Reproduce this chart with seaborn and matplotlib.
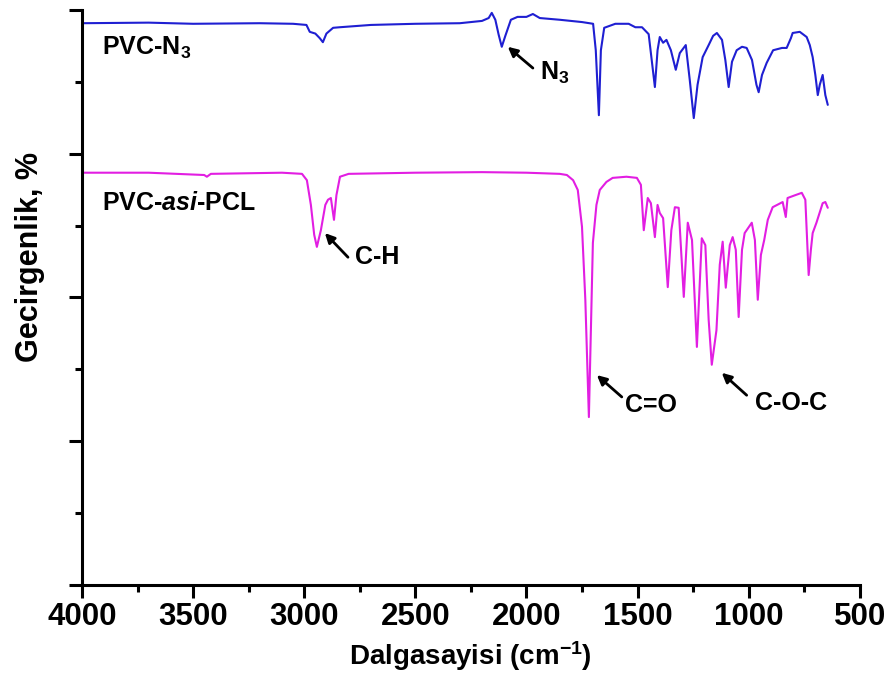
import numpy as np
import pandas as pd
import seaborn as sns
from matplotlib import pyplot as plt
from matplotlib.ticker import MultipleLocator, NullFormatter

# PVC-N3 spectrum (wavenumber, transmittance)
wn_n3 = [4000, 3700, 3500, 3200, 3050, 2990, 2975, 2950, 2930, 2916, 2900, 2870, 2840,
         2700, 2500, 2300, 2200, 2170, 2156, 2140, 2125, 2111, 2095, 2070, 2040, 2000,
         1971, 1940, 1850, 1750, 1700, 1688, 1674, 1665, 1650, 1600, 1540, 1510, 1480,
         1450, 1422, 1410, 1400, 1385, 1370, 1350, 1328, 1310, 1283, 1265, 1247, 1230,
         1207, 1180, 1160, 1143, 1120, 1105, 1090, 1075, 1054, 1030, 1009, 985, 965, 955,
         940, 919, 890, 850, 829, 810, 802, 770, 739, 725, 712, 700, 689, 680, 667, 655, 644]
t_n3 = [97.7, 97.8, 97.6, 97.7, 97.6, 97.4, 96.2, 95.9, 95.1, 94.4, 95.9, 96.9, 97.0,
        97.4, 97.6, 97.7, 98.1, 98.6, 99.5, 98.3, 95.7, 93.6, 95.5, 98.3, 98.8, 98.8,
        99.3, 98.6, 98.3, 97.9, 97.6, 93.0, 81.7, 93.0, 96.9, 97.6, 97.6, 97.0, 97.0,
        95.8, 86.6, 93.0, 95.3, 94.3, 94.8, 93.0, 89.6, 92.5, 93.9, 87.8, 81.2, 87.0,
        91.8, 93.9, 95.5, 96.0, 94.8, 91.3, 86.6, 91.0, 93.0, 93.6, 93.4, 91.3, 87.0, 85.7,
        88.7, 90.8, 93.0, 93.4, 93.4, 95.1, 96.0, 96.2, 95.3, 93.9, 91.8, 88.7, 85.2, 87.0,
        88.7, 85.2, 83.5]

# PVC-asi-PCL spectrum
wn_pcl = [4000, 3700, 3450, 3438, 3420, 3100, 3010, 2988, 2970, 2955, 2943, 2925, 2905,
          2893, 2880, 2866, 2855, 2839, 2800, 2500, 2200, 2000, 1850, 1818, 1790, 1769,
          1750, 1735, 1719, 1710, 1701, 1685, 1670, 1640, 1612, 1550, 1503, 1485, 1472,
          1454, 1440, 1422, 1410, 1400, 1385, 1364, 1348, 1332, 1315, 1292, 1274, 1255,
          1233, 1211, 1195, 1180, 1166, 1145, 1130, 1117, 1103, 1085, 1072, 1058, 1045,
          1030, 1018, 986, 972, 959, 945, 930, 914, 892, 847, 833, 825, 790, 761, 745,
          730, 720, 712, 695, 667, 655, 644]
t_pcl = [71.7, 71.7, 71.3, 71.0, 71.5, 71.7, 71.5, 70.4, 66.1, 60.9, 58.8, 61.7, 66.1,
         67.0, 67.3, 63.5, 67.8, 71.0, 71.5, 71.7, 71.8, 71.7, 71.5, 71.3, 70.4, 68.7,
         62.3, 49.6, 29.2, 44.3, 59.5, 66.1, 68.7, 70.1, 70.8, 71.0, 70.8, 69.6, 61.7,
         67.3, 66.4, 60.5, 66.1, 64.7, 63.8, 51.8, 61.7, 65.7, 65.6, 50.1, 63.0, 60.0,
         41.4, 60.3, 59.1, 46.1, 38.3, 44.3, 55.7, 59.7, 51.7, 59.1, 60.5, 58.3, 46.6,
         58.3, 61.2, 63.0, 60.0, 49.6, 57.4, 60.0, 63.5, 65.7, 66.6, 64.0, 67.3, 67.8, 68.2,
         67.0, 53.9, 58.3, 61.2, 63.0, 66.4, 66.6, 65.6]

samples = ['PVC-N3', 'PVC-asi-PCL']
colors = ['#1f1fd2', '#e21ee2']

df = pd.concat([
    pd.DataFrame({'wn': wn_n3, 'T': t_n3, 'sample': samples[0]}),
    pd.DataFrame({'wn': wn_pcl, 'T': t_pcl, 'sample': samples[1]}),
], ignore_index=True)

sns.set_style('ticks')
plt.rcParams['font.family'] = ['Liberation Sans', 'DejaVu Sans']
plt.rcParams['font.weight'] = 'bold'
plt.rcParams['mathtext.fontset'] = 'custom'
plt.rcParams['mathtext.rm'] = 'Liberation Sans:bold'
plt.rcParams['mathtext.bf'] = 'Liberation Sans:bold'
plt.rcParams['mathtext.it'] = 'Liberation Sans:italic:bold'
plt.rcParams['axes.unicode_minus'] = False
for k in ['text.color', 'axes.labelcolor', 'xtick.color', 'ytick.color', 'axes.edgecolor']:
    plt.rcParams[k] = 'black'

fig = plt.figure(figsize=(8.93, 6.89), dpi=100)
ax = fig.add_axes([0.0918, 0.151, 0.871, 0.8345])

sns.lineplot(data=df, x='wn', y='T', hue='sample', palette=dict(zip(samples, colors)),
             estimator=None, legend=False, lw=1.5, ax=ax)

ax.set_xlim(4000, 500)
ax.set_ylim(0, 100)
ax.xaxis.set_major_locator(MultipleLocator(500))
ax.xaxis.set_minor_locator(MultipleLocator(250))
ax.yaxis.set_major_locator(MultipleLocator(25))
ax.yaxis.set_minor_locator(MultipleLocator(12.5))
ax.yaxis.set_major_formatter(NullFormatter())
sns.despine(ax=ax)
for s in ['left', 'bottom']:
    ax.spines[s].set_linewidth(2.2)
ax.tick_params(which='major', length=9.5, width=2.2, labelsize=22.5, pad=3)
ax.tick_params(which='minor', length=5, width=2.2)
for lab in ax.get_xticklabels():
    lab.set_fontweight('bold')

ax.set_xlabel(r'Dalgasayisi (cm$^{\mathregular{-1}}$)', fontsize=20, fontweight='bold')
ax.set_ylabel('Gecirgenlik, %', fontsize=22, fontweight='bold')
ax.xaxis.set_label_coords(0.5, -0.095)
ax.yaxis.set_label_coords(-0.048, 0.57)

# sample names
ax.text(3910, 93.4, r'PVC-N$_{\mathregular{3}}$', fontsize=18, fontweight='bold', va='center')
ax.text(3910, 66.4, r'PVC-$\mathit{asi}$-PCL', fontsize=18, fontweight='bold', va='center')

# band labels with arrows
arrow = dict(arrowstyle='-|>', color='black', lw=2, mutation_scale=14, shrinkA=0, shrinkB=0)
bands = [('C-H', (2907, 61.2), (2803, 57.0), (2772, 57.0)),
         (r'N$_{\mathregular{3}}$', (2084, 93.6), (1971, 89.9), (1940, 89.0)),
         ('C=O', (1683, 36.5), (1571, 32.7), (1557, 31.3)),
         ('C-O-C', (1121, 36.9), (1009, 33.0), (973, 31.7))]
for name, head, tail, pos in bands:
    ax.annotate('', xy=head, xytext=tail, arrowprops=arrow)
    ax.text(pos[0], pos[1], name, fontsize=18, fontweight='bold', va='center', ha='left')

plt.savefig('out.png', dpi=100)
